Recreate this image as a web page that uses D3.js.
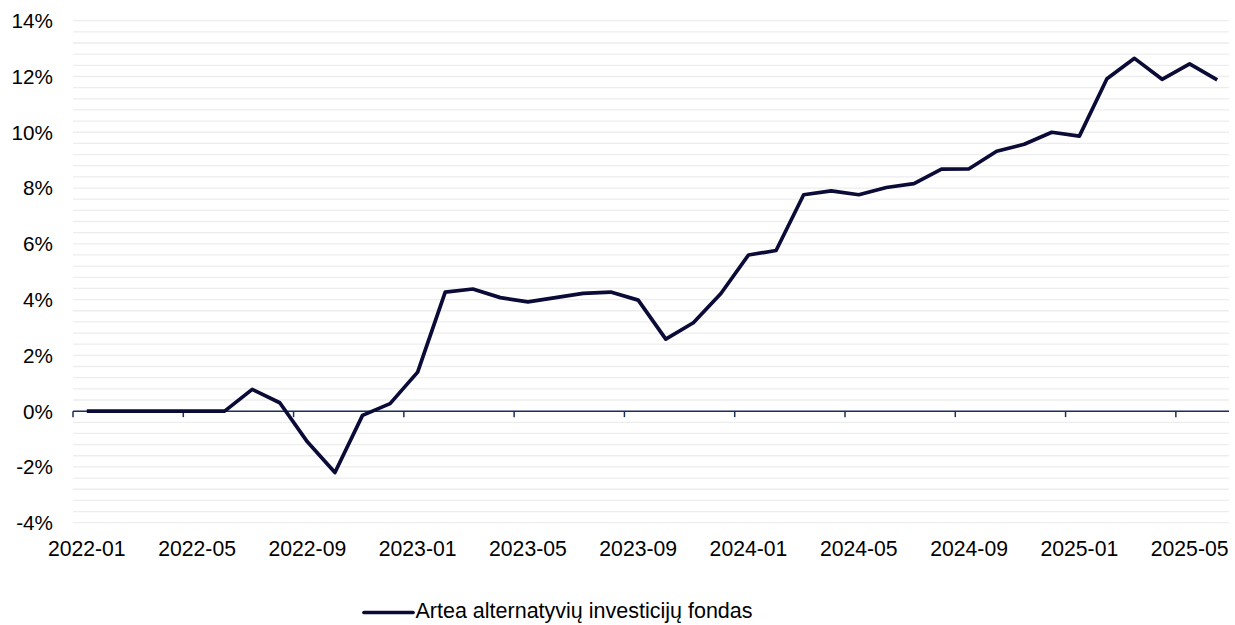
<!DOCTYPE html>
<html>
<head>
<meta charset="utf-8">
<title>Artea</title>
<style>
  body { margin: 0; background: #fff; }
  text { font-family: "Liberation Sans", Arial, sans-serif; fill: #000; }
</style>
</head>
<body>
<script src="https://d3js.org/d3.v7.min.js"></script>
<script>
// monthly categories 2022-01 .. 2025-06
var months = ["2022-01","2022-02","2022-03","2022-04","2022-05","2022-06","2022-07","2022-08","2022-09","2022-10","2022-11","2022-12",
              "2023-01","2023-02","2023-03","2023-04","2023-05","2023-06","2023-07","2023-08","2023-09","2023-10","2023-11","2023-12",
              "2024-01","2024-02","2024-03","2024-04","2024-05","2024-06","2024-07","2024-08","2024-09","2024-10","2024-11","2024-12",
              "2025-01","2025-02","2025-03","2025-04","2025-05","2025-06"];
// fund return, %
var fund = [0, 0, 0, 0, 0, 0, 0.78, 0.3, -1.1, -2.2, -0.15, 0.27,
            1.4, 4.27, 4.38, 4.07, 3.92, 4.07, 4.22, 4.27, 3.98, 2.58, 3.17, 4.22,
            5.6, 5.76, 7.76, 7.9, 7.76, 8.02, 8.16, 8.68, 8.69, 9.32, 9.57, 10.0,
            9.86, 11.92, 12.65, 11.9, 12.45, 11.88];
var seriesName = "Artea alternatyvių investicijų fondas";
var yTicks = [-4, -2, 0, 2, 4, 6, 8, 10, 12, 14];
var xLabels = ["2022-01","2022-05","2022-09","2023-01","2023-05","2023-09","2024-01","2024-05","2024-09","2025-01","2025-05"];

var width = 1235, height = 625;
var lineColor = "#0b0b38";
var axisColor = "#1b2f5e";

var svg = d3.select("body").append("svg")
    .attr("width", width)
    .attr("height", height);

var x = d3.scaleBand().domain(months).range([73, 1231]);
var y = d3.scaleLinear().domain([-4, 14]).range([522.7, 20.7]);

// light gridlines every 0.4%
var grid = d3.range(0, 46).map(function(i) { return -4 + i * 0.4; });
svg.append("g").selectAll("line")
    .data(grid)
    .enter().append("line")
    .attr("x1", 73).attr("x2", 1229)
    .attr("y1", function(d) { return y(d); })
    .attr("y2", function(d) { return y(d); })
    .attr("stroke", "#ededed")
    .attr("stroke-width", 1.3);

// y labels
svg.append("g").selectAll("text")
    .data(yTicks)
    .enter().append("text")
    .attr("x", 53)
    .attr("y", function(d) { return y(d); })
    .attr("dy", "0.36em")
    .attr("text-anchor", "end")
    .style("font-size", "20.7px")
    .text(function(d) { return d + "%"; });

// zero axis with ticks between categories
svg.append("line")
    .attr("x1", 73).attr("x2", 1229)
    .attr("y1", y(0)).attr("y2", y(0))
    .attr("stroke", axisColor)
    .attr("stroke-width", 1.5);

var tickMonths = months.filter(function(d, i) { return i % 4 == 0; });
svg.append("g").selectAll("line")
    .data(tickMonths)
    .enter().append("line")
    .attr("x1", function(d) { return x(d); })
    .attr("x2", function(d) { return x(d); })
    .attr("y1", y(0))
    .attr("y2", y(0) + 6)
    .attr("stroke", axisColor)
    .attr("stroke-width", 1.5);

// x labels
svg.append("g").selectAll("text")
    .data(xLabels)
    .enter().append("text")
    .attr("x", function(d) { return x(d) + x.bandwidth() / 2; })
    .attr("y", 556)
    .attr("text-anchor", "middle")
    .style("font-size", "21.2px")
    .text(function(d) { return d; });

// the line
var line = d3.line()
    .x(function(d, i) { return x(months[i]) + x.bandwidth() / 2; })
    .y(function(d) { return y(d); });

svg.append("path")
    .datum(fund)
    .attr("d", line)
    .attr("fill", "none")
    .attr("stroke", lineColor)
    .attr("stroke-width", 3.7)
    .attr("stroke-linejoin", "round");

// legend
svg.append("line")
    .attr("x1", 364).attr("x2", 413)
    .attr("y1", 612.5).attr("y2", 612.5)
    .attr("stroke", lineColor)
    .attr("stroke-width", 3.7)
    .attr("stroke-linecap", "round");
svg.append("text")
    .attr("x", 415.5)
    .attr("y", 617.5)
    .style("font-size", "21.5px")
    .text(seriesName);
</script>
</body>
</html>
